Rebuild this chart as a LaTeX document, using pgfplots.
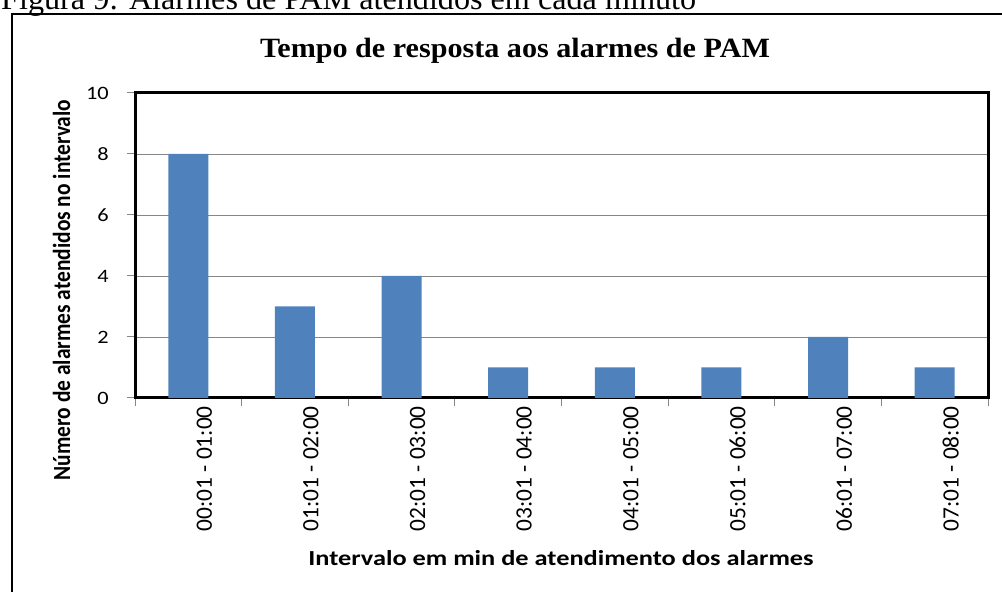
\documentclass[border=0pt]{standalone}
\usepackage{pgfplots}
\pgfplotsset{compat=1.18}
\usepackage{graphicx}
\usepackage{fontspec}
\setmainfont{Carlito}
\newfontfamily\tnr{Liberation Serif}
\definecolor{barblue}{HTML}{4F81BD}
\definecolor{gridgray}{HTML}{868686}
\begin{document}
\begin{tikzpicture}
\useasboundingbox (0bp,0bp) rectangle (1002bp,592bp);
\clip (0bp,0bp) rectangle (1002bp,592bp);
\begin{scope}[x=1bp,y=1bp]
\node[anchor=base west, inner sep=0, font=\tnr\fontsize{32.3}{36}\selectfont] at (1,582) {Figura 9: Alarmes de PAM atendidos em cada minuto};
\draw[line width=2bp] (12,-10) -- (12,578) -- (1012,578);
\node[anchor=base, inner sep=0, font=\tnr\bfseries\fontsize{28}{32}\selectfont] at (515,534) {\scalebox{1.08}[1]{Tempo de resposta aos alarmes de PAM}};
\node[anchor=base, inner sep=0, font=\bfseries\fontsize{21.5}{24}\selectfont] at (561,27) {\scalebox{1.23}[1]{Intervalo em min de atendimento dos alarmes}};
\node[rotate=90, anchor=base, inner sep=0, font=\bfseries\fontsize{21.5}{24}\selectfont] at (70,302) {\scalebox{1}[1.15]{Número de alarmes atendidos no intervalo}};
\end{scope}
\begin{axis}[
  at={(135bp,194bp)}, anchor=south west, scale only axis,
  width=853bp, height=305bp,
  xmin=-0.5, xmax=7.5, ymin=0, ymax=10,
  ytick={0,2,...,10},
  xtick={-0.5,0.5,...,7.5}, xticklabels={},
  extra x ticks={0,1,2,3,4,5,6,7},
  extra x tick labels={00:01 - 01:00,01:01 - 02:00,02:01 - 03:00,03:01 - 04:00,04:01 - 05:00,05:01 - 06:00,06:01 - 07:00,07:01 - 08:00},
  extra x tick style={tick style={draw=none}, grid=none,
     tick label style={rotate=90, anchor=east, inner sep=0, yshift=-16bp, font=\fontsize{23.5}{25}\selectfont}},
  tick align=outside, major tick length=8bp,
  xtick pos=bottom, ytick pos=left,
  tick style={draw=gridgray, line width=1bp},
  ymajorgrids, grid style={draw=gridgray, line width=0.9bp},
  axis line style={line width=3bp, black},
  /pgf/number format/assume math mode=true,
  yticklabel={\scalebox{1.18}[1]{\pgfmathprintnumber{\tick}}},
  yticklabel style={inner sep=0, xshift=-18bp, font=\fontsize{19}{21}\selectfont},
]
\addplot[ybar, bar width=40bp, fill=barblue, draw=none] coordinates {(0,8) (1,3) (2,4) (3,1) (4,1) (5,1) (6,2) (7,1)};
\end{axis}
\end{tikzpicture}
\end{document}
